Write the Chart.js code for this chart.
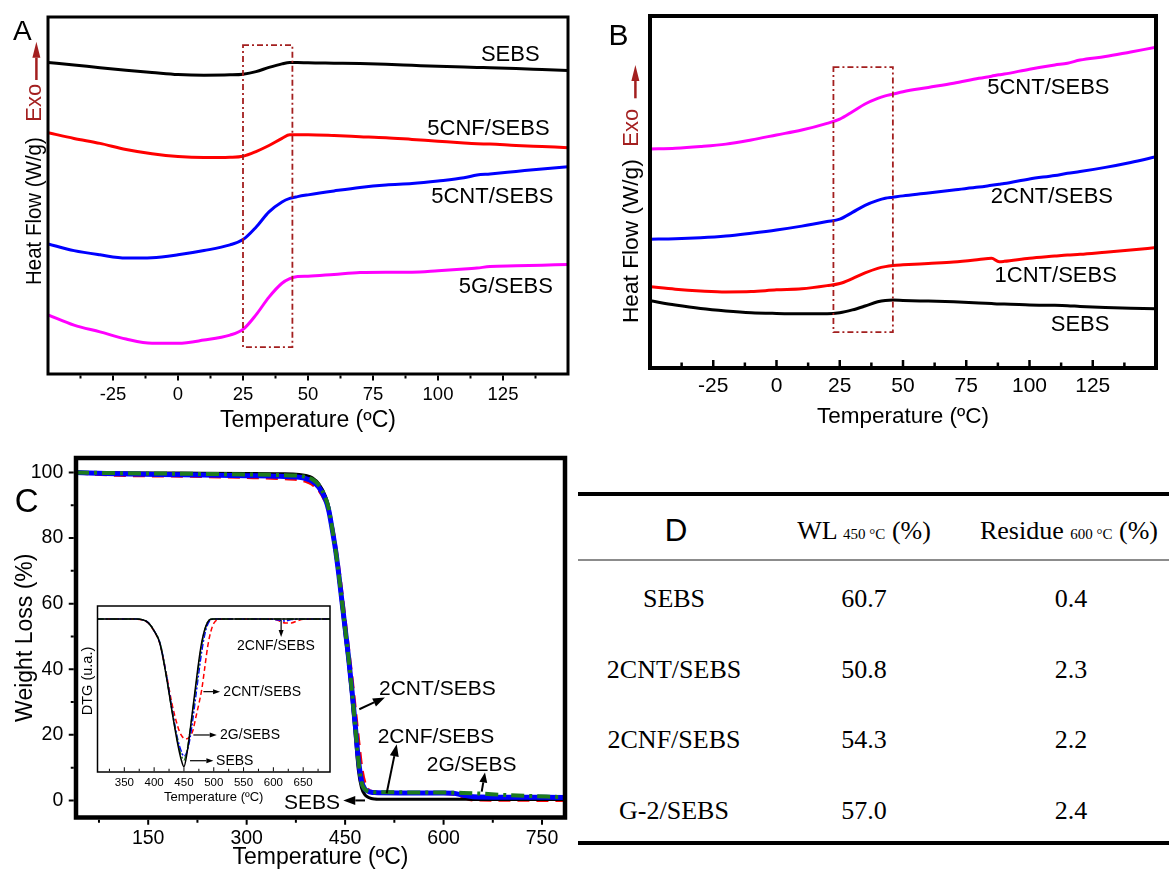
<!DOCTYPE html>
<html><head><meta charset="utf-8">
<script src="https://cdn.jsdelivr.net/npm/chart.js@4.4.1/dist/chart.umd.min.js"></script>
<style>
html,body{margin:0;padding:0;background:#fff;width:1169px;height:870px;overflow:hidden;position:relative;}
canvas{position:absolute;}
.cell{position:absolute;transform:translate(-50%,-50%);line-height:1;white-space:nowrap;font-family:"Liberation Serif","Times New Roman",serif;font-size:26px;color:#000;}
.rule{position:absolute;left:578px;width:591px;}
</style></head><body>
<canvas id="cA" width="580" height="440" style="left:0;top:0;width:580px;height:440px"></canvas>
<canvas id="cB" width="579" height="440" style="left:590px;top:0;width:579px;height:440px"></canvas>
<canvas id="cC" width="578" height="430" style="left:0;top:450px;width:578px;height:430px"></canvas>
<canvas id="cI" width="280" height="215" style="left:60px;top:595px;width:280px;height:215px"></canvas>
<script>
// ---------------- DATA ----------------
// Panel A (DSC, arbitrary heat-flow units)
const dscTempA = [-50,-40,-30,-20,-10,0,10,20,25,30,35,40,43,46,50,60,70,80,90,100,110,115,120,130,140,150];
const aSEBS  = [87.2,86.5,85.7,85.0,84.4,83.8,83.6,83.7,83.9,84.6,85.8,86.8,87.2,87.2,87.1,87.0,86.9,86.7,86.4,86.1,85.9,85.8,85.7,85.5,85.2,84.9];
const aCNF5  = [67.4,65.8,64.4,62.7,61.5,60.7,60.4,60.5,60.8,62.1,63.8,65.8,66.8,66.8,66.8,66.6,66.3,66.0,65.5,65.0,64.5,64.3,64.2,63.8,63.5,63.2];
const aCNT5  = [36.1,34.2,33.0,32.1,32.2,33.0,34.2,35.8,37.3,40.8,45.1,47.9,48.9,49.4,49.9,51.0,52.0,52.7,53.1,53.8,54.7,55.5,55.8,56.5,57.2,57.8];
const aG5    = [16.1,13.2,11.3,9.3,8.1,8.1,9.0,10.4,12.0,16.1,21.1,25.0,26.3,26.9,27.0,27.5,28.0,28.1,28.1,28.5,29.0,29.3,29.7,29.9,30.1,30.3];
// Panel B (DSC)
const dscTempB = [-50,-40,-30,-20,-10,0,10,20,25,30,35,40,43,46,50,60,70,80,85,88,90,100,110,115,120,130,140,150];
const bCNT5  = [62.2,62.4,62.9,63.6,64.8,66.2,67.6,69.5,70.7,72.8,75.0,76.6,77.3,77.8,78.5,79.7,80.9,82.3,82.9,83.3,83.5,84.9,86.1,86.6,87.5,88.5,89.8,91.1];
const bCNT2  = [36.6,36.7,37.0,37.5,38.3,39.2,40.3,41.6,42.3,44.2,46.2,47.6,48.2,48.5,48.9,49.7,50.6,51.4,51.9,52.2,52.4,53.7,54.7,55.3,55.8,57.0,58.4,60.0];
const bCNT1  = [23.1,22.4,21.9,21.6,21.7,22.2,22.5,23.4,24.0,25.4,27.0,28.3,28.8,29.1,29.3,29.7,30.1,30.8,31.2,30.2,30.3,31.2,31.8,32.1,32.3,32.9,33.5,34.2];
const bSEBS  = [19.1,17.9,16.9,16.2,15.7,15.5,15.4,15.4,15.7,16.5,17.6,18.8,19.2,19.3,19.2,19.0,18.8,18.5,18.3,18.2,18.2,17.9,17.8,17.7,17.5,17.2,17.0,16.8];
const dscTicks = [-25,0,25,50,75,100,125];
// Panel C (TGA, weight %)
const tgaTemp = [40,100,200,300,350,380,390,400,410,420,425,430,435,440,445,450,455,460,465,470,475,480,485,490,495,500,550,600,615,630,645,700,785];
const tgaSEBS = [100,99.9,99.8,99.7,99.6,99.4,99.1,98.4,96.5,92.8,89.5,83,76,68.5,59.5,50.5,42,32,21,9.5,3.8,1.8,1.0,0.6,0.45,0.4,0.4,0.4,0.4,0.35,0.3,0.3,0.3];
const tgaCNT2 = [100,99.3,99.0,98.6,98.3,97.9,97.4,96.5,94.8,91.3,88.3,83.5,77.5,70.5,62.5,54,45.5,37,27.5,18,9.5,5,3.2,2.6,2.4,2.35,2.3,2.25,2.0,1.0,0.3,0.2,0.1];
const tgaCNF2 = [100,99.6,99.3,99.0,98.8,98.5,98.1,97.3,95.5,91.8,88.5,83,77,69.5,61,52.5,44,34.5,24,13,6,3.5,2.8,2.5,2.4,2.35,2.3,2.3,2.2,1.6,1.15,1.0,0.9];
const tgaG2   = [100,99.8,99.6,99.4,99.2,99.0,98.6,97.9,96.1,92.3,89,83.3,77,69.5,61,52.5,44,34,23.5,12.5,5.5,3.4,2.8,2.6,2.5,2.5,2.45,2.4,2.35,2.3,2.2,1.6,1.0];
const tgaXTicks = [150,300,450,600,750];
const tgaYTicks = [0,20,40,60,80,100];
// Inset (DTG, arbitrary units)
const dtgTemp = [305,350,370,380,390,400,410,420,430,440,445,450,455,460,465,470,475,480,485,490,495,500,510,550,600,610,620,630,640,650,695];
const dtgSEBS = [92.2,92.2,92.2,91.8,90,85,77,58.5,36.5,16,8,3.2,11,24,38.5,53,67,78.5,86,90.5,92,92.2,92.2,92.2,92.2,92.2,92.2,92.2,92.2,92.2,92.2];
const dtgCNT2 = [92.2,92.2,92.1,91.6,89.8,84.8,77,60,41,27,22.5,20.3,20,21.5,25,33,41,50,63,76,84.5,89.5,92,92.2,92,91,89.8,89.8,91,92,92.2];
const dtgCNF2 = [92.2,92.2,92.2,91.7,90,85,77.5,59.5,38,19,13,9.5,12,20,32,46,60,73,83,89,91.5,92.2,92.2,92.2,92,91.5,91,91.8,92.1,92.2,92.2];
const dtgG2   = [92.2,92.2,92.2,91.8,90,85,77.5,59,37,17.5,10.5,7.2,12.5,24,37,51,65,77,85.5,90.5,92,92.2,92.2,92.2,92.2,92.2,92.2,92.2,92.2,92.2,92.2];
const dtgTicks = [350,400,450,500,550,600,650];
// Table D
const tblSamples = ['SEBS','2CNT/SEBS','2CNF/SEBS','G-2/SEBS'];
const tblWL450 = [60.7,50.8,54.3,57.0];
const tblRes600 = [0.4,2.3,2.2,2.4];

// ---------------- HELPERS ----------------
const SANS = '"Liberation Sans", Arial, sans-serif';
Chart.defaults.font.family = SANS;
Chart.defaults.color = '#000';
const DARKRED = '#a31f1f';
function pts(xs, ys){ return xs.map((x,i)=>({x:x, y:ys[i]})); }
function drawArrow(ctx,x1,y1,x2,y2,head,hw,lw,color){
  const a = Math.atan2(y2-y1, x2-x1);
  const bx = x2 - head*Math.cos(a), by = y2 - head*Math.sin(a);
  ctx.save(); ctx.setLineDash([]); ctx.strokeStyle=color; ctx.fillStyle=color; ctx.lineWidth=lw;
  ctx.beginPath(); ctx.moveTo(x1,y1); ctx.lineTo(bx,by); ctx.stroke();
  ctx.beginPath(); ctx.moveTo(x2,y2);
  ctx.lineTo(bx + hw/2*Math.sin(a), by - hw/2*Math.cos(a));
  ctx.lineTo(bx - hw/2*Math.sin(a), by + hw/2*Math.cos(a));
  ctx.closePath(); ctx.fill(); ctx.restore();
}
function tickMarks(ctx, scale, ca, axis, majors, minorStep, dir, fw, majLen, minLen){
  const list = majors.map(v=>[v,majLen]);
  if (minorStep){
    const isMaj = v => majors.some(m=>Math.abs(m-v)<1e-9);
    for (let v=majors[0]-minorStep; v>scale.min; v-=minorStep) if(!isMaj(v)) list.push([v,minLen]);
    for (let v=majors[0]+minorStep; v<scale.max; v+=minorStep) if(!isMaj(v)) list.push([v,minLen]);
  }
  ctx.beginPath();
  list.forEach(([v,len])=>{
    const p = scale.getPixelForValue(v);
    if (axis==='x'){
      if (p<=ca.left+fw || p>=ca.right-fw) return;
      const y0 = dir==='out' ? ca.bottom+fw/2 : ca.bottom-fw/2;
      ctx.moveTo(p,y0); ctx.lineTo(p, dir==='out'? y0+len : y0-len);
    } else {
      if (p>=ca.bottom-fw || p<=ca.top+fw) return;
      const x0 = dir==='out' ? ca.left-fw/2 : ca.left+fw/2;
      ctx.moveTo(x0,p); ctx.lineTo(dir==='out'? x0-len : x0+len, p);
    }
  });
  ctx.stroke();
}
const deco = {
  id:'deco',
  beforeDatasetsDraw(chart,args,o){
    if (o && o.bg){ const ca=chart.chartArea, ctx=chart.ctx; ctx.save(); ctx.fillStyle=o.bg; ctx.fillRect(ca.left,ca.top,ca.right-ca.left,ca.bottom-ca.top); ctx.restore(); }
  },
  afterDatasetsDraw(chart,args,o){
    if (!o) return;
    const ctx=chart.ctx, X=chart.scales.x, Y=chart.scales.y;
    ctx.save();
    if (o.box){
      const b=o.box;
      const x1=X.getPixelForValue(b.x1), x2=X.getPixelForValue(b.x2), y1=Y.getPixelForValue(b.y1), y2=Y.getPixelForValue(b.y2);
      ctx.strokeStyle=b.color; ctx.lineWidth=b.lw; ctx.setLineDash(b.dash);
      ctx.strokeRect(Math.min(x1,x2),Math.min(y1,y2),Math.abs(x2-x1),Math.abs(y2-y1));
      ctx.setLineDash([]);
    }
    (o.labels||[]).forEach(l=>{
      ctx.font=l.font; ctx.fillStyle=l.color||'#000'; ctx.textAlign=l.align||'left'; ctx.textBaseline='middle';
      ctx.fillText(l.text, X.getPixelForValue(l.x), Y.getPixelForValue(l.y));
    });
    (o.arrows||[]).forEach(a=>{
      drawArrow(ctx, X.getPixelForValue(a.x1), Y.getPixelForValue(a.y1), X.getPixelForValue(a.x2), Y.getPixelForValue(a.y2), a.head, a.hw, a.lw, '#000');
    });
    ctx.restore();
  },
  afterDraw(chart,args,o){
    if (!o) return;
    const ctx=chart.ctx, ca=chart.chartArea, X=chart.scales.x, Y=chart.scales.y;
    ctx.save();
    ctx.strokeStyle='#000'; ctx.setLineDash([]);
    if (o.frame){ ctx.lineWidth=o.frame; ctx.strokeRect(ca.left,ca.top,ca.right-ca.left,ca.bottom-ca.top); }
    if (o.ticks){
      const t=o.ticks; ctx.lineWidth=t.lw; ctx.lineCap='butt';
      tickMarks(ctx,X,ca,'x',t.xMajor,t.xMinor,t.dir,o.frame,t.maj,t.min);
      if (t.yMajor) tickMarks(ctx,Y,ca,'y',t.yMajor,t.yMinor,t.dir,o.frame,t.maj,t.min);
    }
    if (o.yTitle){
      const t=o.yTitle;
      ctx.font=t.font; ctx.textAlign='left'; ctx.textBaseline='alphabetic';
      ctx.save(); ctx.translate(ca.left+t.dx, ca.bottom+t.dy); ctx.rotate(-Math.PI/2); ctx.scale(t.sx||1,1); ctx.fillStyle='#000'; ctx.fillText(t.text,0,0); ctx.restore();
      ctx.save(); ctx.translate(ca.left+t.dx, ca.bottom+t.exoDy); ctx.rotate(-Math.PI/2); ctx.fillStyle=DARKRED; ctx.fillText('Exo',0,0); ctx.restore();
      drawArrow(ctx, ca.left+t.arrDx, ca.bottom+t.arrY1, ca.left+t.arrDx, ca.bottom+t.arrY2, 16, 8, 2.5, DARKRED);
    }
    if (o.yTitleC){
      const t=o.yTitleC;
      ctx.save(); ctx.translate(ca.left+t.dx, ca.top+t.dy); ctx.rotate(-Math.PI/2);
      ctx.font=t.font; ctx.textAlign='center'; ctx.textBaseline='middle'; ctx.fillStyle='#000'; ctx.fillText(t.text,0,0); ctx.restore();
    }
    if (o.letter){
      const l=o.letter; ctx.font=l.font; ctx.fillStyle='#000'; ctx.textAlign='left'; ctx.textBaseline='alphabetic';
      ctx.fillText(l.text,l.x,l.y);
    }
    ctx.restore();
  }
};
Chart.register(deco);

function noPad(s){ s.paddingTop=0; s.paddingBottom=0; s.paddingLeft=0; s.paddingRight=0; }
function xAxis(min,max,ticks,h,tickFont,tickPad,titleFont,titlePad){
  return {type:'linear',min:min,max:max,
    afterBuildTicks:s=>{ s.ticks = ticks.map(v=>({value:v})); },
    afterFit:s=>{ s.height=h; noPad(s); },
    grid:{display:false,drawTicks:false}, border:{display:false},
    ticks:{padding:tickPad,font:{size:tickFont},color:'#000',maxRotation:0,minRotation:0,autoSkip:false},
    title:{display:true,text:'Temperature (ºC)',color:'#000',font:{size:titleFont},padding:{top:0,bottom:titlePad}}
  };
}
function baseOpts(pad, x, y, decoOpts, lineW){
  return {responsive:false, animation:false, events:[],
    layout:{padding:pad},
    elements:{point:{radius:0}, line:{borderWidth:lineW, tension:0.4, cubicInterpolationMode:'monotone', fill:false, borderCapStyle:'butt'}},
    plugins:{legend:{display:false}, tooltip:{enabled:false}, deco:decoOpts},
    scales:{x:x, y:y}
  };
}
const LBL = '22px ' + SANS;

// ---------------- PANEL A ----------------
new Chart(document.getElementById('cA'), {
  type:'line',
  data:{datasets:[
    {data:pts(dscTempA,aSEBS), borderColor:'#000000'},
    {data:pts(dscTempA,aCNF5), borderColor:'#ff0000'},
    {data:pts(dscTempA,aCNT5), borderColor:'#0000ff'},
    {data:pts(dscTempA,aG5),   borderColor:'#ff00ff'}
  ]},
  options: baseOpts({left:48,right:12,top:17,bottom:0},
    xAxis(-50,150,dscTicks,66,18.5,9.9,23,5.2),
    {type:'linear',display:false,min:-0.56,max:100},
    {frame:3,
     ticks:{xMajor:dscTicks,xMinor:12.5,dir:'out',maj:5,min:3,lw:2},
     box:{x1:25,x2:44,y1:7.0,y2:92.1,color:DARKRED,lw:1.8,dash:[6,3,2,3]},
     labels:[
       {text:'SEBS',x:116.5,y:89.3,font:LBL},
       {text:'5CNF/SEBS',x:95.9,y:68.4,font:LBL},
       {text:'5CNT/SEBS',x:97.4,y:49.4,font:LBL},
       {text:'5G/SEBS',x:108,y:24.0,font:LBL}
     ],
     yTitle:{text:'Heat Flow (W/g)',font:'22px '+SANS,sx:0.93,dx:-7,dy:-89,exoDy:-252.3,arrDx:-11.6,arrY1:-294,arrY2:-332.3},
     letter:{text:'A',x:13,y:40,font:'28px '+SANS}
    }, 3)
});

// ---------------- PANEL B ----------------
new Chart(document.getElementById('cB'), {
  type:'line',
  data:{datasets:[
    {data:pts(dscTempB,bCNT5), borderColor:'#ff00ff'},
    {data:pts(dscTempB,bCNT2), borderColor:'#0000ff'},
    {data:pts(dscTempB,bCNT1), borderColor:'#ff0000'},
    {data:pts(dscTempB,bSEBS), borderColor:'#000000'}
  ]},
  options: baseOpts({left:60,right:13,top:16,bottom:0},
    xAxis(-50,150,dscTicks,72,21,6.1,22.5,9.8),
    {type:'linear',display:false,min:0,max:100},
    {frame:4,
     ticks:{xMajor:dscTicks,xMinor:12.5,dir:'in',maj:6,min:3.5,lw:2.5},
     box:{x1:22.5,x2:46,y1:10.2,y2:85.5,color:DARKRED,lw:1.8,dash:[6,3,2,3]},
     labels:[
       {text:'5CNT/SEBS',x:83.3,y:79.7,font:LBL},
       {text:'2CNT/SEBS',x:84.7,y:48.7,font:LBL},
       {text:'1CNT/SEBS',x:86.2,y:26.1,font:LBL},
       {text:'SEBS',x:108.4,y:12.2,font:LBL}
     ],
     yTitle:{text:'Heat Flow (W/g)',font:'22px '+SANS,sx:1.03,dx:-11.7,dy:-45,exoDy:-221.3,arrDx:-14.6,arrY1:-269.7,arrY2:-303},
     letter:{text:'B',x:18.6,y:45,font:'30px '+SANS}
    }, 3)
});

// ---------------- PANEL C ----------------
const GREEN = '#1e7b1e';
const CL = '21px ' + SANS;
new Chart(document.getElementById('cC'), {
  type:'line',
  data:{datasets:[
    {data:pts(tgaTemp,tgaG2),   borderColor:GREEN, borderWidth:4, borderDash:[13,5,3,5], order:1},
    {data:pts(tgaTemp,tgaCNF2), borderColor:'#0000ff', borderWidth:5, order:2},
    {data:pts(tgaTemp,tgaSEBS), borderColor:'#000000', borderWidth:3, order:3},
    {data:pts(tgaTemp,tgaCNT2), borderColor:'#ff0000', borderWidth:4, borderDash:[12,7], order:4}
  ]},
  options: baseOpts({left:0,right:13,top:8,bottom:0},
    xAxis(40,785,tgaXTicks,62.5,19.5,9.1,23,8.2),
    {type:'linear',min:-5.2,max:104.4,position:'left',
     afterBuildTicks:s=>{ s.ticks = tgaYTicks.map(v=>({value:v})); },
     afterFit:s=>{ s.width=76; noPad(s); },
     grid:{display:false,drawTicks:false}, border:{display:false},
     ticks:{padding:12.7,font:{size:19.5},color:'#000'},
     title:{display:true,text:'Weight Loss (%)',color:'#000',font:{size:23},padding:{top:12.2,bottom:0}}
    },
    {frame:4.5,
     ticks:{xMajor:tgaXTicks,xMinor:75,yMajor:tgaYTicks,yMinor:10,dir:'out',maj:5,min:3,lw:2},
     labels:[
       {text:'2CNT/SEBS',x:501.6,y:34.0,font:CL},
       {text:'2CNF/SEBS',x:499.6,y:19.4,font:CL},
       {text:'2G/SEBS',x:574.3,y:10.8,font:CL},
       {text:'SEBS',x:442.2,y:-0.8,font:CL,align:'right'}
     ],
     arrows:[
       {x1:471.6,y1:27.8,x2:510.7,y2:31.4,head:12,hw:9,lw:2},
       {x1:513.3,y1:2.2,x2:528.6,y2:17.1,head:12,hw:9,lw:2},
       {x1:658.1,y1:2.7,x2:663.1,y2:8.5,head:10,hw:8,lw:2},
       {x1:480.3,y1:0,x2:447.2,y2:0,head:12,hw:9,lw:2}
     ],
     letter:{text:'C',x:14.8,y:61.7,font:'33px '+SANS}
    }, 3)
});

// ---------------- INSET ----------------
const IL = '14px ' + SANS;
new Chart(document.getElementById('cI'), {
  type:'line',
  data:{datasets:[
    {data:pts(dtgTemp,dtgCNT2), borderColor:'#ff0000', borderDash:[5,3], order:4},
    {data:pts(dtgTemp,dtgCNF2), borderColor:'#0000ff', borderDash:[6,2,2,2], order:3},
    {data:pts(dtgTemp,dtgG2),   borderColor:GREEN, borderDash:[7,2,2,2], order:2},
    {data:pts(dtgTemp,dtgSEBS), borderColor:'#000000', order:1}
  ]},
  options: baseOpts({left:37.5,right:10,top:11,bottom:0},
    xAxis(305,695,dtgTicks,38,11.5,3.8,13,4.9),
    {type:'linear',display:false,min:0,max:100},
    {bg:'#ffffff', frame:1.5,
     ticks:{xMajor:dtgTicks,xMinor:25,dir:'in',maj:4,min:2.5,lw:1},
     labels:[
       {text:'2CNF/SEBS',x:539.1,y:75.9,font:IL},
       {text:'2CNT/SEBS',x:516.1,y:48.4,font:IL},
       {text:'2G/SEBS',x:510.6,y:22.3,font:IL},
       {text:'SEBS',x:503.9,y:6.8,font:IL}
     ],
     arrows:[
       {x1:613,y1:91.6,x2:613,y2:81.3,head:7,hw:5,lw:1.2},
       {x1:482.6,y1:48.4,x2:510.6,y2:48.4,head:7,hw:5,lw:1.2},
       {x1:465.8,y1:22.3,x2:505,y2:22.3,head:7,hw:5,lw:1.2},
       {x1:460.2,y1:6.8,x2:499.4,y2:6.8,head:7,hw:5,lw:1.2}
     ],
     yTitleC:{text:'DTG (u.a.)',font:'14.5px '+SANS,dx:-9.5,dy:75}
    }, 1.5)
});

// ---------------- TABLE D ----------------
function addDiv(html, cx, cy, style){
  const d=document.createElement('div'); d.className='cell'; d.innerHTML=html;
  d.style.left=cx+'px'; d.style.top=cy+'px'; if(style) d.style.cssText += style;
  document.body.appendChild(d); return d;
}
function addRule(top,h,color){
  const r=document.createElement('div'); r.className='rule';
  r.style.top=top+'px'; r.style.height=h+'px'; r.style.background=color; document.body.appendChild(r);
}
addRule(491.7,4.3,'#000'); addRule(558.7,2.6,'#8c8c8c'); addRule(840.7,4.3,'#000');
const colX=[674,864,1071], headY=530.5, rowY0=599, rowStep=70.5;
addDiv('D',676,529,'font-family:Lato,"Open Sans",sans-serif;font-size:30px;');
addDiv('WL <span style="font-size:15px">450 °C</span> (%)',colX[1],headY);
addDiv('Residue <span style="font-size:15px">600 °C</span> (%)',colX[2]-2,headY);
tblSamples.forEach((s,i)=>{
  const y=rowY0+i*rowStep;
  addDiv(s,colX[0],y);
  addDiv(tblWL450[i].toFixed(1),colX[1],y);
  addDiv(tblRes600[i].toFixed(1),colX[2],y);
});
</script>
</body></html>
